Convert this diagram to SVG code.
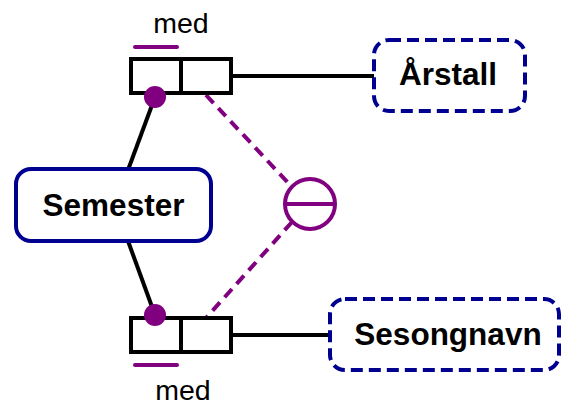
<svg xmlns="http://www.w3.org/2000/svg" width="566" height="406" viewBox="0 0 566 406">
<style>
.lbl{font-family:"Liberation Sans",Arial,sans-serif;font-weight:bold;font-size:31.5px;fill:#000;text-anchor:middle}
.med{font-family:"Liberation Sans",Arial,sans-serif;font-size:28.5px;fill:#000;text-anchor:middle}
.ent{fill:#fff;stroke:#000090;stroke-width:4}
.val{fill:#fff;stroke:#000090;stroke-width:4;stroke-dasharray:12 6}
.role{fill:#fff;stroke:#000;stroke-width:4}
.ln{stroke:#000;stroke-width:4;fill:none}
.dash{stroke:#800080;stroke-width:4;stroke-dasharray:11 7;fill:none}
.bar{stroke:#800080;stroke-width:4;stroke-linecap:round}
</style>
<g id="connectors">
<line class="ln" x1="128" y1="170" x2="155" y2="97"/>
<line class="ln" x1="128" y1="241" x2="155" y2="315"/>
<line class="ln" x1="233" y1="76" x2="374" y2="76"/>
<line class="ln" x1="233" y1="335" x2="330" y2="335"/>
<line class="dash" x1="206" y1="95" x2="292" y2="187"/>
<line class="dash" x1="292" y1="222" x2="206" y2="318"/>
</g>
<g id="semester">
<rect class="ent" x="16" y="169" width="195" height="72" rx="15"/>
<text class="lbl" x="113.5" y="216">Semester</text>
</g>
<g id="arstall">
<rect class="val" x="374" y="40" width="151" height="71" rx="15"/>
<text class="lbl" x="448" y="85">Årstall</text>
</g>
<g id="sesongnavn">
<rect class="val" x="330" y="299" width="229" height="71" rx="15"/>
<text class="lbl" x="448" y="345">Sesongnavn</text>
</g>
<g id="fact-top">
<rect class="role" x="131" y="59" width="100" height="34"/>
<line class="ln" x1="181" y1="59" x2="181" y2="93"/>
<line class="bar" x1="135" y1="47" x2="177" y2="47"/>
<text class="med" x="181" y="33">med</text>
<circle cx="155" cy="97" r="11" fill="#800080"/>
</g>
<g id="fact-bottom">
<rect class="role" x="131" y="318" width="100" height="34"/>
<line class="ln" x1="181" y1="318" x2="181" y2="352"/>
<line class="bar" x1="135" y1="365" x2="177" y2="365"/>
<text class="med" x="183" y="400">med</text>
<circle cx="155" cy="315" r="11" fill="#800080"/>
</g>
<g id="exclusion">
<circle cx="310" cy="204" r="25" fill="none" stroke="#800080" stroke-width="4"/>
<line x1="285" y1="204" x2="335" y2="204" stroke="#800080" stroke-width="4"/>
</g>
</svg>
